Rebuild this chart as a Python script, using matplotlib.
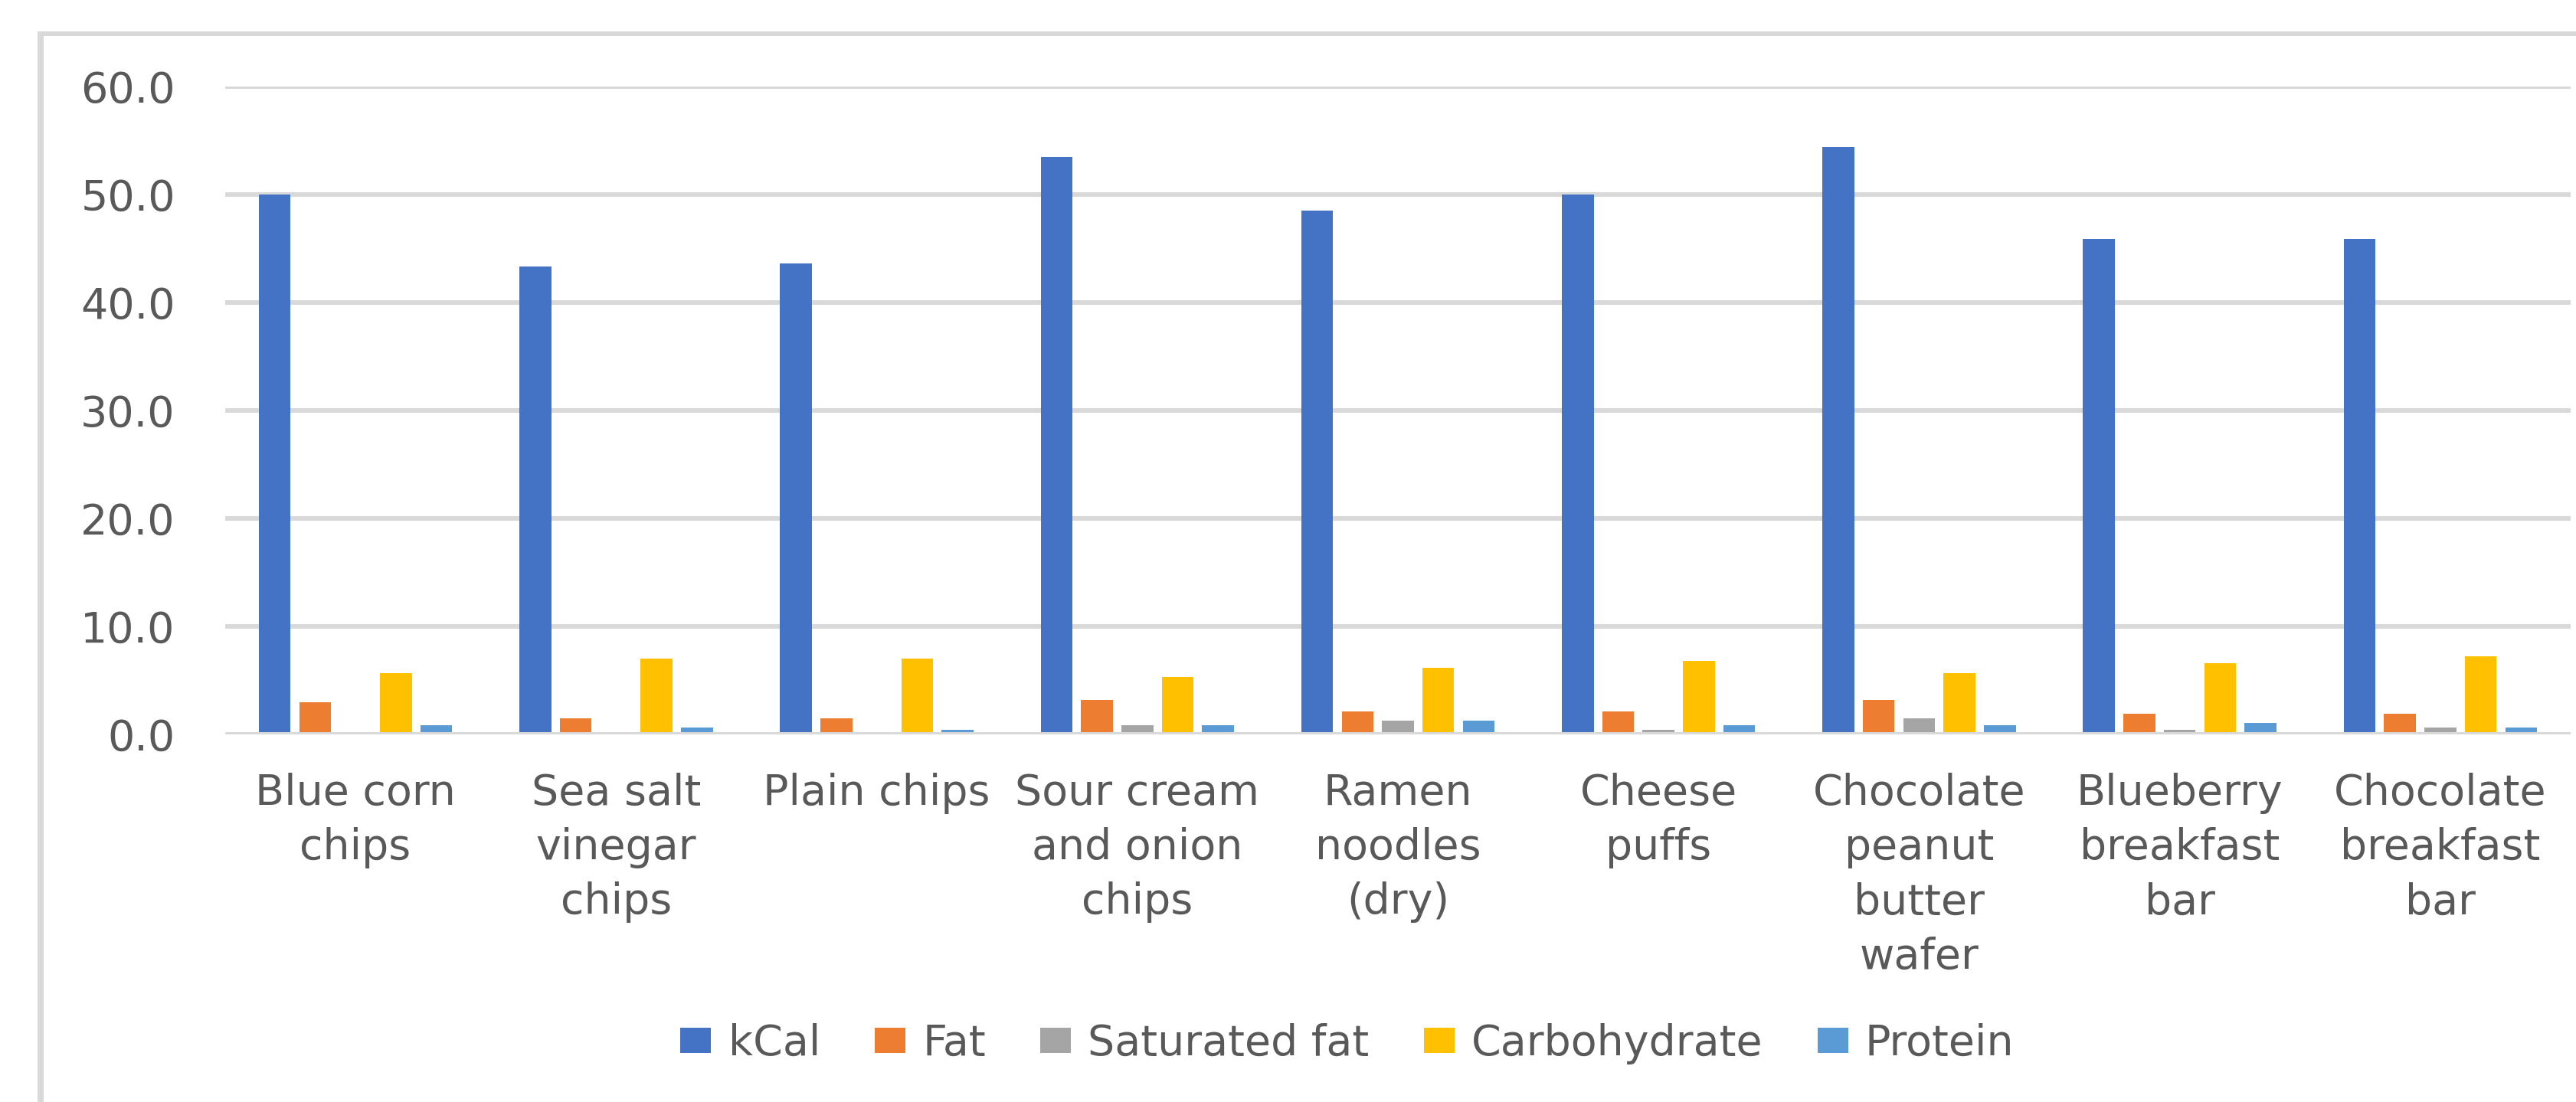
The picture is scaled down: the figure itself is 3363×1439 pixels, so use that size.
import numpy as np
import matplotlib
matplotlib.use("Agg")
import matplotlib.pyplot as plt
from matplotlib.patches import Patch
from matplotlib.lines import Line2D

# data
categories = ["Blue corn\nchips", "Sea salt\nvinegar\nchips", "Plain chips",
              "Sour cream\nand onion\nchips", "Ramen\nnoodles\n(dry)", "Cheese\npuffs",
              "Chocolate\npeanut\nbutter\nwafer", "Blueberry\nbreakfast\nbar",
              "Chocolate\nbreakfast\nbar"]
series_names = ["kCal", "Fat", "Saturated fat", "Carbohydrate", "Protein"]
kcal = [50.0, 43.3, 43.6, 53.5, 48.5, 50.0, 54.4, 45.9, 45.9]
fat = [3.0, 1.5, 1.5, 3.2, 2.1, 2.1, 3.2, 1.9, 1.9]
sat_fat = [0.0, 0.0, 0.0, 0.85, 1.3, 0.43, 1.5, 0.43, 0.64]
carb = [5.7, 7.0, 7.0, 5.3, 6.2, 6.8, 5.7, 6.6, 7.2]
protein = [0.85, 0.64, 0.43, 0.85, 1.3, 0.85, 0.85, 1.06, 0.64]
colors = ["#4472C4", "#ED7D31", "#A5A5A5", "#FFC000", "#5B9BD5"]
yticks = [0, 10, 20, 30, 40, 50, 60]

plt.rcParams['font.family'] = ['DejaVu Sans']
txt = "#595959"
grid = "#D9D9D9"
fs = 40

W, H = 3363, 1439
fig = plt.figure(figsize=(W / 100, H / 100), dpi=100)
ax = fig.add_axes([294 / W, (H - 959) / H, (3356 - 294) / W, (959 - 113) / H])

x = np.arange(len(categories))
pitch = 0.155
width = 0.122
all_series = [kcal, fat, sat_fat, carb, protein]
for i, vals in enumerate(all_series):
    ax.bar(x + (i - 2) * pitch, vals, width, color=colors[i], zorder=2)

ax.set_xlim(-0.5, len(categories) - 0.5)
ax.set_ylim(0, 60)
ax.set_yticks(yticks)
ax.set_yticklabels(["%.1f" % v for v in yticks])
ax.set_xticks(x)
ax.set_xticklabels(categories, linespacing=1.41, multialignment='center')
ax.tick_params(axis='both', length=0, labelsize=fs, labelcolor=txt)
ax.tick_params(axis='y', pad=47)
ax.tick_params(axis='x', pad=36)
for s in ax.spines.values():
    s.set_visible(False)
ax.yaxis.grid(True, color=grid, linewidth=4.3, zorder=1)
ax.set_axisbelow(True)
ax.axhline(0, color=grid, linewidth=4.3, zorder=3)

# legend
handles = [Patch(facecolor=c, edgecolor='none') for c in colors]
fig.legend(handles, series_names, loc='center', bbox_to_anchor=(1759 / W, (H - 1363) / H),
           ncol=5, frameon=False, fontsize=fs, labelcolor=txt,
           handlelength=0.72, handleheight=0.54, handletextpad=0.4, columnspacing=1.28)

# outer chart border (left and top only visible)
fig.add_artist(Line2D([53 / W, 53 / W], [(H - 41) / H, 0], color=grid, linewidth=5.8,
                      solid_capstyle='butt'))
fig.add_artist(Line2D([49 / W, 1], [(H - 44) / H, (H - 44) / H], color=grid, linewidth=4.3,
                      solid_capstyle='butt'))

fig.savefig("out.png", dpi=100, facecolor='white')
